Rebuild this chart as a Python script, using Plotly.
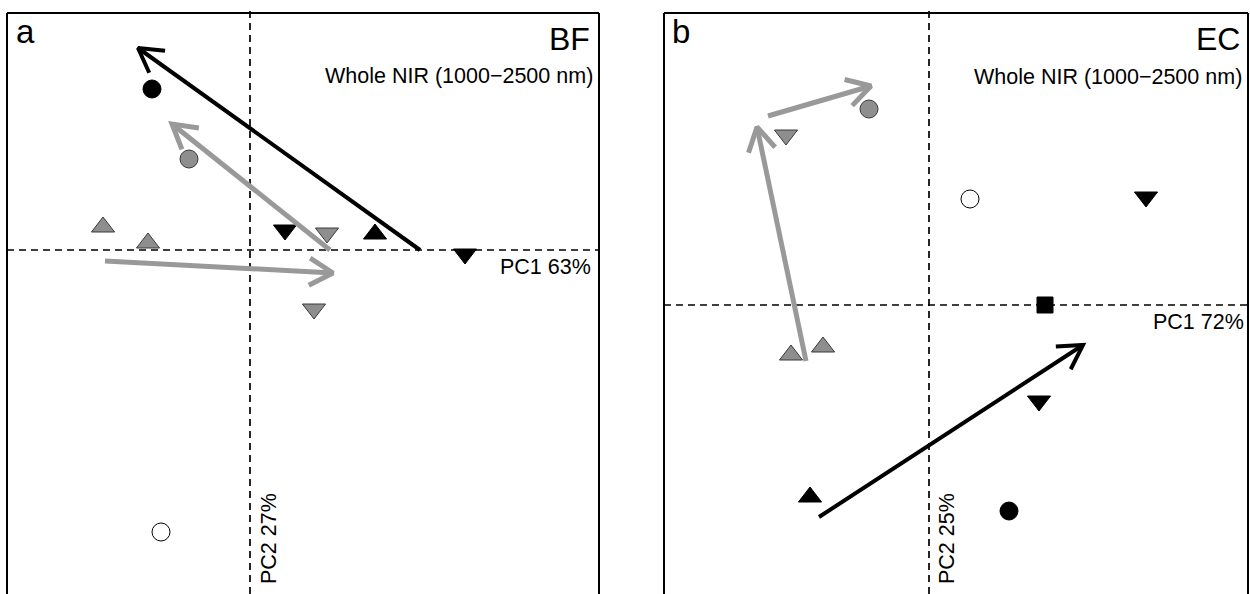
import math
import plotly.graph_objects as go

W, H = 1250, 594

# ---------------- Panel a (BF) : PCA scores ----------------
a_x = [-2.45, -1.525, -3.675, -2.55, 0.875, 1.925, 3.125, 5.375, 1.6, -2.225]
a_y = [4.025, 2.275, 0.575, 0.175, 0.5, 0.425, 0.4, -0.1, -1.475, -7.05]
a_group = ["black_circle", "gray_circle", "gray_up", "gray_up", "black_down",
           "gray_down", "black_up", "black_down", "gray_down", "open_circle"]

a_arrow_x0 = [4.25, 2.0, -3.625]
a_arrow_y0 = [0.0, 0.0, -0.275]
a_arrow_x1 = [-2.8, -1.95, 2.075]
a_arrow_y1 = [5.05, 3.15, -0.575]
a_arrow_col = ["black", "gray", "gray"]

# ---------------- Panel b (EC) : PCA scores ----------------
b_x = [-1.5, -3.575, 1.025, 5.425, 2.9, -3.45, -2.65, 2.75, -2.975, 2.0]
b_y = [4.9, 4.25, 2.65, 2.7, 0.0, -1.25, -1.05, -2.4, -4.8, -5.15]
b_group = ["gray_circle", "gray_down", "open_circle", "black_down", "black_square",
           "gray_up", "gray_up", "black_down", "black_up", "black_circle"]

b_arrow_x0 = [-4.025, -3.075, -2.75]
b_arrow_y0 = [4.725, -1.4, -5.3]
b_arrow_x1 = [-1.45, -4.3, 3.85]
b_arrow_y1 = [5.475, 4.45, -1.0]
b_arrow_col = ["gray", "gray", "black"]

# axis ranges (PC units)
a_xrange = [-6.075, 8.725]
a_yrange = [-8.6, 5.925]
b_xrange = [-6.625, 7.975]
b_yrange = [-7.225, 7.3]

panels = [
    dict(title="BF", letter="a", pc1="PC1 63%", pc2="PC2 27%"),
    dict(title="EC", letter="b", pc1="PC1 72%", pc2="PC2 25%"),
]

GRAY_FILL = "#8e8e8e"
GRAY_EDGE = "#3a3a3a"
GRAY_LINE = "#999999"
styles = {
    "black_circle": dict(symbol="circle", color="black", line=dict(color="black", width=1)),
    "gray_circle": dict(symbol="circle", color=GRAY_FILL, line=dict(color=GRAY_EDGE, width=1)),
    "open_circle": dict(symbol="circle", color="white", line=dict(color="black", width=1)),
    "gray_up": dict(symbol="triangle-up", color=GRAY_FILL, line=dict(color=GRAY_EDGE, width=1)),
    "gray_down": dict(symbol="triangle-down", color=GRAY_FILL, line=dict(color=GRAY_EDGE, width=1)),
    "black_up": dict(symbol="triangle-up", color="black", line=dict(color="black", width=1)),
    "black_down": dict(symbol="triangle-down", color="black", line=dict(color="black", width=1)),
    "black_square": dict(symbol="square", color="black", line=dict(color="black", width=1)),
}
sizes = {"circle": 18, "triangle-up": 20, "triangle-down": 20, "square": 16}

fig = go.Figure()

# domains in paper units (margins are zero)
x_domains = [[7 / W, 599 / W], [664 / W, 1248 / W]]
y_top = 1 - 13 / H
y_domain = [0, y_top]


def add_panel(k, xs, ys, groups, ax0, ay0, ax1, ay1, acol):
    xa = "x" if k == 0 else "x2"
    ya = "y" if k == 0 else "y2"
    # points
    for g in dict.fromkeys(groups):
        st = styles[g]
        px = [x for x, gg in zip(xs, groups) if gg == g]
        py = [y for y, gg in zip(ys, groups) if gg == g]
        fig.add_trace(go.Scatter(
            x=px, y=py, mode="markers", xaxis=xa, yaxis=ya, showlegend=False,
            marker=dict(symbol=st["symbol"], color=st["color"], line=st["line"],
                        size=sizes[st["symbol"]]),
            hoverinfo="skip"))
    # arrows (open V heads, R-style)
    L = 0.68
    ang = math.radians(30)
    for x0, y0, x1, y1, c in zip(ax0, ay0, ax1, ay1, acol):
        th = math.atan2(y1 - y0, x1 - x0)
        h1x = x1 - L * math.cos(th - ang)
        h1y = y1 - L * math.sin(th - ang)
        h2x = x1 - L * math.cos(th + ang)
        h2y = y1 - L * math.sin(th + ang)
        col = "black" if c == "black" else GRAY_LINE
        w = 4 if c == "black" else 5
        fig.add_trace(go.Scatter(
            x=[x0, x1, None, h1x, x1, h2x], y=[y0, y1, None, h1y, y1, h2y],
            mode="lines", xaxis=xa, yaxis=ya, showlegend=False,
            line=dict(color=col, width=w), hoverinfo="skip"))


add_panel(0, a_x, a_y, a_group, a_arrow_x0, a_arrow_y0, a_arrow_x1, a_arrow_y1, a_arrow_col)
add_panel(1, b_x, b_y, b_group, b_arrow_x0, b_arrow_y0, b_arrow_x1, b_arrow_y1, b_arrow_col)

ax_common = dict(visible=False, showgrid=False, zeroline=False, fixedrange=True)
fig.update_layout(
    width=W, height=H,
    margin=dict(l=0, r=0, t=0, b=0),
    paper_bgcolor="white", plot_bgcolor="white",
    font=dict(family="Liberation Sans, Arial, sans-serif", color="black"),
    xaxis=dict(domain=x_domains[0], range=a_xrange, anchor="y", **ax_common),
    yaxis=dict(domain=y_domain, range=a_yrange, anchor="x", **ax_common),
    xaxis2=dict(domain=x_domains[1], range=b_xrange, anchor="y2", **ax_common),
    yaxis2=dict(domain=y_domain, range=b_yrange, anchor="x2", **ax_common),
)

shapes = []
dash = dict(color="black", width=1.7, dash="7px,5px")
for k in range(2):
    xr = "x" if k == 0 else "x2"
    yr = "y" if k == 0 else "y2"
    # dashed zero lines
    shapes.append(dict(type="line", xref=xr, yref="paper", x0=0, x1=0, y0=0, y1=1 - 10 / H,
                       line=dash, layer="below"))
    shapes.append(dict(type="line", xref=xr + " domain", yref=yr, x0=0, x1=1, y0=0, y1=0,
                       line=dash, layer="below"))
    # frame (left, top, right; bottom is cut off)
    frame = dict(color="black", width=2)
    shapes.append(dict(type="line", xref=xr + " domain", yref=yr + " domain",
                       x0=0, x1=0, y0=0, y1=1, line=frame))
    shapes.append(dict(type="line", xref=xr + " domain", yref=yr + " domain",
                       x0=0, x1=1, y0=1, y1=1, line=frame))
    shapes.append(dict(type="line", xref=xr + " domain", yref=yr + " domain",
                       x0=1, x1=1, y0=0, y1=1, line=frame))
fig.update_layout(shapes=shapes)


def P(px, py):
    return px / W, 1 - py / H


ann = []
# panel positions (pixels) : letter, title, subtitle, PC1, PC2
pos = [
    dict(letter=(14, 32), title=(592, 39), sub=(595, 76), pc1=(593, 267), pc2=(269, 539)),
    dict(letter=(670, 32), title=(1242, 39), sub=(1244, 77), pc1=(1246, 322), pc2=(947, 539)),
]
for p, q in zip(panels, pos):
    x, y = P(*q["letter"])
    ann.append(dict(text=p["letter"], x=x, y=y, xref="paper", yref="paper",
                    xanchor="left", yanchor="middle", showarrow=False, font=dict(size=33)))
    x, y = P(*q["title"])
    ann.append(dict(text=p["title"], x=x, y=y, xref="paper", yref="paper",
                    xanchor="right", yanchor="middle", showarrow=False, font=dict(size=32)))
    x, y = P(*q["sub"])
    ann.append(dict(text="Whole NIR (1000\u22122500 nm)", x=x, y=y, xref="paper", yref="paper",
                    xanchor="right", yanchor="middle", showarrow=False, font=dict(size=21.5)))
    x, y = P(*q["pc1"])
    ann.append(dict(text=p["pc1"], x=x, y=y, xref="paper", yref="paper",
                    xanchor="right", yanchor="middle", showarrow=False, font=dict(size=21.5)))
    x, y = P(*q["pc2"])
    ann.append(dict(text=p["pc2"], x=x, y=y, xref="paper", yref="paper", textangle=-90,
                    xanchor="center", yanchor="middle", showarrow=False, font=dict(size=21.5)))
fig.update_layout(annotations=ann)

fig.write_html("out.html", config={"displayModeBar": False},
               post_script="document.body.style.margin='0px';")
